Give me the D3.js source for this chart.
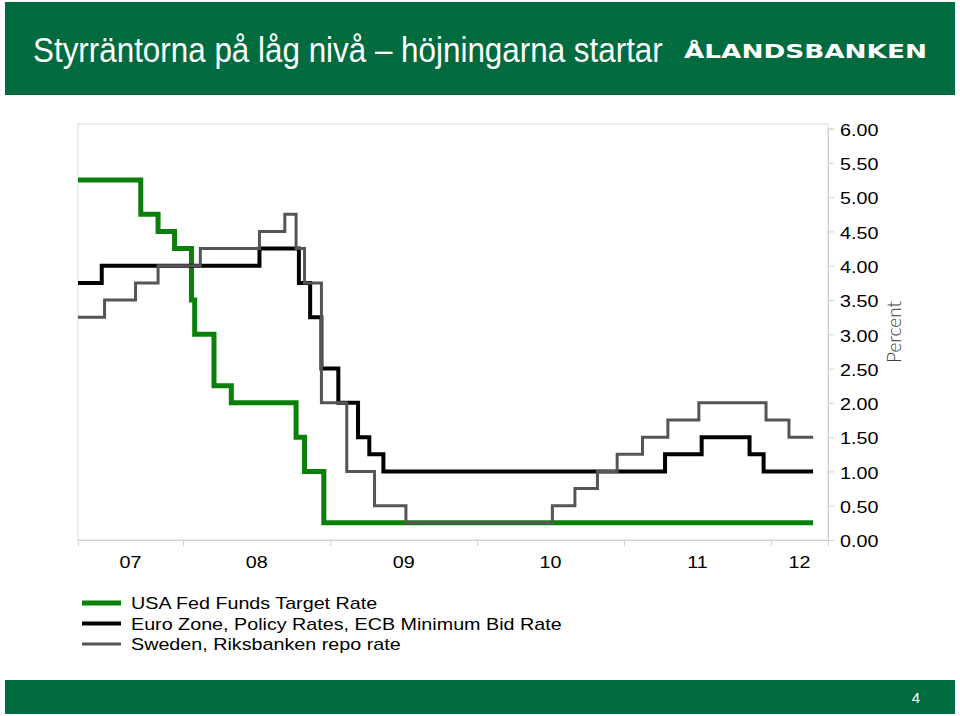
<!DOCTYPE html>
<html>
<head>
<meta charset="utf-8">
<script src="https://cdn.jsdelivr.net/npm/d3@7"></script>
<style>
  html, body { margin: 0; padding: 0; background: #fff; }
  svg { display: block; }
</style>
</head>
<body>
<svg id="chart" width="960" height="716"></svg>
<script>
// ---- Data ----
const titleText = "Styrräntorna på låg nivå – höjningarna startar";
const logoText = "ÅLANDSBANKEN";
const pageNumber = "4";
const axisTitle = "Percent";

const seriesNames = [
  "USA Fed Funds Target Rate",
  "Euro Zone, Policy Rates, ECB Minimum Bid Rate",
  "Sweden, Riksbanken repo rate"
];

const fedDates = ["2007-04-15","2007-09-18","2007-10-31","2007-12-11","2008-01-22","2008-01-30","2008-03-18","2008-04-30","2008-10-08","2008-10-29","2008-12-16","2012-04-15"];
const fedValues = [5.25,4.75,4.50,4.25,3.50,3.00,2.25,2.00,1.50,1.00,0.25,0.25];

const ecbDates = ["2007-04-15","2007-06-13","2008-07-09","2008-10-15","2008-11-12","2008-12-10","2009-01-21","2009-03-11","2009-04-08","2009-05-13","2011-04-13","2011-07-13","2011-11-09","2011-12-14","2012-04-15"];
const ecbValues = [3.75,4.00,4.25,3.75,3.25,2.50,2.00,1.50,1.25,1.00,1.25,1.50,1.25,1.00,1.00];

const sweDates = ["2007-04-15","2007-06-20","2007-09-05","2007-10-31","2008-02-13","2008-07-09","2008-09-10","2008-10-08","2008-10-29","2008-12-10","2009-02-11","2009-04-21","2009-07-08","2010-07-07","2010-09-01","2010-10-27","2010-12-15","2011-02-16","2011-04-20","2011-07-06","2011-12-20","2012-02-15","2012-04-15"];
const sweValues = [3.25,3.50,3.75,4.00,4.25,4.50,4.75,4.25,3.75,2.00,1.00,0.50,0.25,0.50,0.75,1.00,1.25,1.50,1.75,2.00,1.75,1.50,1.50];

const yTicks = [0,0.5,1,1.5,2,2.5,3,3.5,4,4.5,5,5.5,6];
const yearLabels = ["07","08","09","10","11","12"];
const yearStarts = ["2007-01-01","2008-01-01","2009-01-01","2010-01-01","2011-01-01","2012-01-01","2013-01-01"];
const xDomain = ["2007-04-15","2012-05-22"];

// ---- Setup ----
const parse = d3.timeParse("%Y-%m-%d");
const svg = d3.select("#chart");
const green = "#006b3f";
const FONT = "'Liberation Sans', Arial, sans-serif";
const STRETCH = 1.16;

// header
svg.append("rect").attr("x",5).attr("y",2).attr("width",950).attr("height",93).attr("fill",green);
const title = svg.append("text")
  .attr("font-family",FONT).attr("font-size",35)
  .attr("fill","#fff").text(titleText);
const tw = title.node().getComputedTextLength();
title.attr("transform",`translate(33,62) scale(${630/tw},1)`);

const logo = svg.append("text")
  .attr("font-family","'DejaVu Sans', sans-serif").attr("font-weight","bold").attr("font-size",20)
  .attr("fill","#fff").text(logoText);
const lw = logo.node().getComputedTextLength();
logo.attr("transform",`translate(684,58) scale(${243/lw},1)`);

// footer
svg.append("rect").attr("x",5).attr("y",680).attr("width",950).attr("height",34).attr("fill",green);
svg.append("text").attr("x",916).attr("y",703).attr("text-anchor","middle")
  .attr("font-family",FONT).attr("font-size",15)
  .attr("fill","#fff").text(pageNumber);

// ---- Scales ----
const plot = {left:78, right:828, top:124, bottom:540};
const x = d3.scaleTime().domain(xDomain.map(parse)).range([plot.left, plot.right]);
const y = d3.scaleLinear().domain([0,6]).range([540, 128.6]);

// frame
svg.append("rect").attr("x",plot.left).attr("y",plot.top)
  .attr("width",plot.right-plot.left).attr("height",plot.bottom-plot.top)
  .attr("fill","none").attr("stroke","#d9d9d9").attr("stroke-width",1);

// right y axis
const yAxis = d3.axisRight(y).tickValues(yTicks).tickSize(6).tickPadding(6).tickFormat(d3.format(".2f"));
const gy = svg.append("g").attr("transform",`translate(${plot.right},0)`).call(yAxis);
gy.select(".domain").attr("stroke","#d0d0d0");
gy.selectAll(".tick line").attr("stroke","#d0d0d0");
gy.selectAll(".tick text").attr("font-family",FONT)
  .attr("font-size",17).attr("fill","#000").attr("dy","0.4em")
  .attr("x", 12/STRETCH).attr("transform",`scale(${STRETCH},1)`);

svg.append("text")
  .attr("transform",`translate(901,332) rotate(-90)`)
  .attr("text-anchor","middle")
  .attr("font-family","Lato, 'Open Sans', sans-serif").attr("font-weight",300)
  .attr("font-size",19).attr("fill","#404040").text(axisTitle);

// bottom x axis
const boundaryDates = yearStarts.map(parse).filter(d => d > x.domain()[0] && d < x.domain()[1]);
const xTickVals = [x.domain()[0], ...boundaryDates];
const xAxis = d3.axisBottom(x).tickValues(xTickVals).tickSize(6).tickFormat("");
const gx = svg.append("g").attr("transform",`translate(0,${plot.bottom})`).call(xAxis);
gx.select(".domain").attr("stroke","#d0d0d0");
gx.selectAll(".tick line").attr("stroke","#d0d0d0");

// year labels centered in each visible year segment
const labelData = yearLabels.map((lab, i) => {
  const a = d3.max([parse(yearStarts[i]), x.domain()[0]]);
  const b = d3.min([parse(yearStarts[i+1]), x.domain()[1]]);
  return {lab, xm: (x(a)+x(b))/2};
});
svg.append("g").selectAll("text").data(labelData).join("text")
  .attr("transform", d => `translate(${d.xm},568) scale(${STRETCH},1)`)
  .attr("text-anchor","middle")
  .attr("font-family",FONT).attr("font-size",17)
  .attr("fill","#000").text(d => d.lab);

// ---- Lines ----
const series = [
  {name: seriesNames[0], dates: fedDates, values: fedValues, color: "#0a800a", width: 5},
  {name: seriesNames[1], dates: ecbDates, values: ecbValues, color: "#000000", width: 4},
  {name: seriesNames[2], dates: sweDates, values: sweValues, color: "#555555", width: 3}
];
const line = d3.line().curve(d3.curveStepAfter).x(d => x(d.date)).y(d => y(d.value));
series.forEach(s => {
  const pts = s.dates.map((d,i) => ({date: parse(d), value: s.values[i]}));
  svg.append("path").datum(pts).attr("d", line)
    .attr("fill","none").attr("stroke", s.color).attr("stroke-width", s.width)
    .attr("stroke-linejoin","miter").attr("stroke-linecap","butt");
});

// ---- Legend ----
const lg = svg.append("g").selectAll("g").data(series).join("g")
  .attr("transform", (d,i) => `translate(0,${603 + i*20.5})`);
lg.append("line").attr("x1",82).attr("x2",121).attr("y1",0).attr("y2",0)
  .attr("stroke", d => d.color).attr("stroke-width", d => d.width);
lg.append("text").attr("transform",`translate(131,6) scale(${STRETCH},1)`)
  .attr("font-family",FONT).attr("font-size",17)
  .attr("fill","#000").text(d => d.name);
</script>
</body>
</html>
